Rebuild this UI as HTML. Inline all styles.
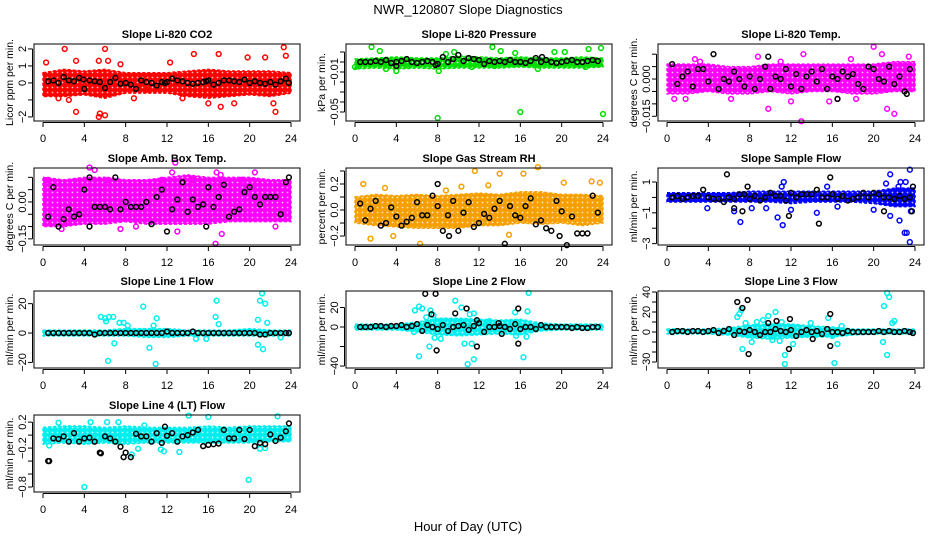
<!DOCTYPE html>
<html><head><meta charset="utf-8">
<style>
html,body{margin:0;padding:0;background:#fff;}
svg{display:block;font-family:"Liberation Sans",Arial,sans-serif;}
</style></head>
<body>
<svg id="chart" width="936" height="540" viewBox="0 0 936 540" xmlns="http://www.w3.org/2000/svg">
<defs id="defs"></defs>
<rect width="936" height="540" fill="#fff"/>
<text x="468" y="14" text-anchor="middle" font-size="13">NWR_120807  Slope Diagnostics</text>
<text x="468" y="531" text-anchor="middle" font-size="13">Hour of Day (UTC)</text>
</svg>
<script>
// ---- shared category arrays ----
const xTicks = [0,4,8,12,16,20,24];
const bandHours = [0,2,4,6,8,10,12,14,16,18,20,22,24];
const blackHours = [0.5,1,1.5,2,2.5,3,3.5,4,4.5,5,5.5,6,6.5,7,7.5,8,8.5,9,9.5,10,10.5,11,11.5,12,12.5,13,13.5,14,14.5,15,15.5,16,16.5,17,17.5,18,18.5,19,19.5,20,20.5,21,21.5,22,22.5,23,23.5];

// ---- Panel 1: Li-820 CO2 ----
const p1Lo = [-0.8,-0.8,-0.7,-0.9,-0.6,-0.6,-0.6,-0.8,-0.9,-0.8,-0.7,-0.8,-0.6];
const p1Hi = [0.6,0.8,0.7,0.8,0.6,0.6,0.6,0.7,0.8,0.7,0.7,0.7,0.6];
const p1OutH = [0.3,2.1,3.2,3.2,2.5,5.4,5.4,6,6,6.3,7.5,12.3,14.6,17,17.2,19.8,21.5,22.5,23.3,23.5,22.3,16,13.5,1.5,10,8.8,18.5,5.5];
const p1OutV = [1.2,2,-1.7,1.3,-1,1.3,-2,2,-1.9,1.3,1.1,1.2,1.7,1.7,-1.4,1.5,1.5,-1.7,2.1,1.6,-1.2,-1.2,-0.9,-0.9,-0.4,-0.9,-1.2,-1.8];
const p1Blk = [0.1,0.15,0,0.35,0.15,0.1,0.3,-0.35,0.15,0.1,0.05,-0.3,0.05,0.3,-0.05,0,-0.1,-0.35,0.15,0.05,0,-0.15,0.05,0.05,0.25,0.15,0.1,0,-0.05,0,0.05,0.15,-0.1,0,0.15,0.15,0.1,0.05,0.2,0,0.1,0,-0.05,0.05,-0.1,0.1,0.25];
const p1XH = [3.9,11.8,15.8,23.8];
const p1XV = [0.2,0,0.1,0];

// ---- Panel 2: Li-820 Pressure ----
const p2Lo = [-0.007,-0.006,-0.007,-0.006,-0.007,-0.006,-0.006,-0.006,-0.005,-0.006,-0.006,-0.006,-0.005];
const p2Hi = [0.003,0.004,0.005,0.004,0.004,0.006,0.005,0.004,0.005,0.004,0.004,0.005,0.004];
const p2OutH = [1.6,2.4,0,0.3,3,4,8,8.1,16,24,13.3,14.1,17.7,22.6,23.8,19.3,20.3,11.3,13.5,22.3,5.2,9.6,15.5,8.8];
const p2OutV = [0.015,0.011,-0.005,-0.003,-0.007,-0.009,-0.056,-0.009,-0.05,-0.052,0.015,0.011,-0.007,0.013,0.014,0.01,0.01,-0.005,-0.004,-0.005,-0.004,0.01,0.009,0.008];
const p2Blk = [0,0,0,0.001,0,0.002,-0.001,0,0.001,0.003,0,-0.001,0,0.001,0,-0.002,0.005,0,0.003,0.007,0.001,0.004,0.003,0.002,-0.002,0.001,0,0.001,0,0.002,0,0,-0.001,0.001,0.004,0,0.002,0,-0.001,0,0.001,0.002,0,0,0.001,0.002,0.001];
const p2XH = [4,7.8,18.1];
const p2XV = [-0.004,-0.003,0.005];

// ---- Panel 3: Li-820 Temp ----
const p3Lo = [-0.006,-0.006,-0.005,-0.006,-0.006,-0.005,-0.006,-0.005,-0.005,-0.006,-0.006,-0.005,-0.005];
const p3Hi = [0.006,0.006,0.006,0.005,0.005,0.006,0.006,0.006,0.006,0.006,0.006,0.007,0.007];
const p3OutH = [9.8,13,20,22,21.3,3.2,8.8,13.2,20.8,0.7,16.5,18.3,12,15.7,6.2,1.8,23.4,11,2.7,17.8];
const p3OutV = [-0.012,-0.017,0.013,-0.014,-0.012,0.007,0.009,0.01,0.01,-0.008,-0.008,-0.008,-0.009,-0.009,-0.008,-0.008,0.009,0.007,0.008,0.008];
const p3Blk = [0.006,-0.002,0.001,0.003,-0.003,0.004,0.004,-0.001,0.01,-0.004,0,-0.001,0.003,0,-0.003,0.001,-0.004,0,0.005,-0.004,0.001,0,0.004,-0.003,0.002,-0.004,0.001,0.003,-0.001,0.004,-0.004,0.001,0,0.003,0.001,0.002,-0.002,-0.004,0.005,0.004,0,-0.001,0.005,-0.002,0.001,-0.005,0.004];
const p3XH = [9.8,16.5,23.2];
const p3XV = [0.009,-0.008,-0.006];

// ---- Panel 4: Amb. Box Temp ----
const p4Lo = [-0.1,-0.1,-0.09,-0.09,-0.08,-0.09,-0.09,-0.09,-0.09,-0.08,-0.08,-0.08,-0.08];
const p4Hi = [0.1,0.09,0.1,0.1,0.09,0.09,0.1,0.11,0.1,0.1,0.1,0.09,0.09];
const p4OutH = [4.5,5,12.8,16.8,17.2,20.5,16.7,17.3,13,1.8,7.5,9,22.5,0.5,6.3,11.5,14.5,19.2,2.5,12.5];
const p4OutV = [0.14,0.13,0.16,0.12,0.11,0.12,-0.17,-0.13,-0.12,-0.11,-0.11,-0.1,-0.1,0.09,0.09,0.09,0.09,0.09,-0.08,0.12];
const p4Blk = [-0.06,0.06,-0.1,-0.07,-0.03,-0.06,-0.05,0.05,-0.1,-0.02,-0.02,-0.02,-0.03,0.1,-0.03,0,-0.02,-0.02,-0.02,0,-0.09,0.02,0.05,-0.12,-0.03,0.01,0.08,-0.04,0.01,-0.02,-0.01,0.06,-0.02,0.02,0.07,-0.06,-0.04,-0.03,0.04,0.06,0.02,-0.01,0.02,0.02,0.02,-0.05,0.08];
const p4XH = [4.5,15.8,23.8];
const p4XV = [0.1,-0.1,0.1];

// ---- Panel 5: Gas Stream RH ----
const p5Lo = [-0.1,-0.12,-0.13,-0.14,-0.14,-0.14,-0.12,-0.12,-0.1,-0.11,-0.1,-0.12,-0.1];
const p5Hi = [0.1,0.12,0.11,0.12,0.11,0.12,0.13,0.12,0.14,0.14,0.12,0.12,0.11];
const p5OutH = [0.8,2.9,6.3,11.6,14,16.3,17.7,22.9,23.7,1.5,3.7,14.9,12.9,20.2,10.3,8.8];
const p5OutV = [0.2,0.17,-0.26,0.3,0.28,0.28,0.33,0.22,0.21,-0.22,-0.2,-0.19,0.19,0.21,0.18,0.15];
const p5Blk = [0.05,-0.08,0.01,0.07,-0.12,-0.1,0.02,-0.05,-0.12,-0.09,-0.06,0.06,-0.04,-0.04,0.11,0.03,-0.16,-0.04,0.07,-0.16,-0.02,0.06,-0.13,-0.1,-0.03,-0.06,0.01,0.07,-0.26,0.03,-0.04,-0.06,0.03,0.09,-0.11,-0.08,-0.14,-0.16,0.07,-0.01,-0.27,-0.05,-0.18,-0.18,-0.18,0.11,-0.02];
const p5XH = [8,9.1,19.8];
const p5XV = [0.2,-0.2,-0.2];

// ---- Panel 6: Sample Flow ----
const p6Lo = [-0.3,-0.3,-0.3,-0.3,-0.3,-0.3,-0.4,-0.3,-0.3,-0.3,-0.4,-0.6,-0.6];
const p6Hi = [0.3,0.3,0.3,0.3,0.4,0.4,0.4,0.4,0.4,0.4,0.4,0.6,0.6];
const p6OutH = [11.3,11.1,10.7,11.2,14.5,7.1,3.9,6.5,21.6,21.2,22.4,22.6,23.1,23.5,23.5,23.2,23,22.5,21.6,23.6,16.5,20,15.5,8.2,9.6,12];
const p6OutV = [1,0.7,-1.3,-1.8,-1,-1.6,-0.7,-0.9,1.5,0.9,0.7,1,1,1.8,-2.9,-2.3,-2.3,-1.5,-1.2,-0.9,-0.6,-0.8,0.7,-0.7,-0.7,-0.8];
const p6Blk = [0,0.1,-0.1,0,0.1,0.1,0.5,0,-0.1,-0.1,-0.3,0,-0.1,0.2,0.2,-0.1,0.1,-0.2,0,0.3,0.1,0.1,-0.2,0.3,0,0.2,0.2,0.2,0.5,0,0,0.2,-0.1,0.1,-0.2,-0.1,0,0.3,0,0.3,0.2,0,0,-0.1,0.1,-0.1,0];
const p6XH = [5.8,15.8,14.7,11.8,7.3,21,23.7,23.8,7.8,6.5];
const p6XV = [1.5,1.3,-1.7,-1.2,-0.9,-0.9,-0.9,0.7,0.7,-0.7];

// ---- Panel 7: Line 1 Flow ----
const p7Lo = [-2,-2,-2,-2,-2,-3,-3,-2,-2,-2,-2,-2,-2];
const p7Hi = [2,2,2,2,3,3,3,2,2,2,3,2,2];
const p7OutH = [5.6,6,6.4,6.8,6.1,7.4,7.8,8.2,9.7,11,10.7,16.8,16.7,17,20.8,21,21.2,21.5,21.7,6.3,10.9,10.3,6.9,21.3,20.8,15.8,14.8,23];
const p7OutV = [11,10,11,11,8,7,7,5,18,10,5,22,11,6,9,22,27,20,7,-19,-21,-10,-7,-11,-8,-4,-4,-3];
const p7Blk = [0,0,0,0,0,0,0,0,0,-1,0,0,0,0,0,0,0,0,0,0,0,0,0,1,0,0,0,0,1,0,0,0,0,0,0,0,0,0,0,0,0,-1,-1,0,0,0,0];
const p7XH = [23.8];
const p7XV = [0];

// ---- Panel 8: Line 2 Flow ----
const p8Lo = [-3,-3,-3,-5,-8,-9,-8,-7,-8,-4,-3,-3,-3];
const p8Hi = [3,3,3,5,9,9,8,7,8,4,3,3,3];
const p8OutH = [6.2,6.5,5.8,6.9,7.3,7.6,9.7,10.3,11.1,11.5,15.5,16.7,16.8,7.7,7.2,6.2,8.3,10.6,10.9,11.5,11.3,16.3,15.6,16.6,9.3,13,5.7];
const p8OutV = [21,19,17,10,17,12,27,20,13,14,15,16,35,-11,-20,-30,-12,-17,-38,-33,-17,-31,-9,-10,-6,6,-5];
const p8Blk = [0,0,0,1,1,0,1,1,2,0,1,3,-4,2,0,-2,2,-4,0,1,2,-3,1,4,-5,0,0,1,0,-2,3,-2,0,0,-2,2,0,0,0,0,0,-1,0,-1,-1,0,0];
const p8XH = [6.8,7.8,7.4,7.9,10.8,9.7,11.8,15.8,15.8,11.8,13.9,14.2];
const p8XV = [34,34,13,-24,19,14,-20,19,-17,7,4,-7];

// ---- Panel 9: Line 3 Flow ----
const p9Lo = [-2,-2,-2,-3,-6,-7,-6,-5,-5,-3,-2,-2,-2];
const p9Hi = [3,3,3,4,7,8,8,6,5,3,3,3,3];
const p9OutH = [6.8,7,7.2,7.6,8.7,9.3,9.8,10.5,11.1,13.9,15.6,16.9,21,21.3,21.5,21.8,22,7.3,8.2,10.2,10.9,11.4,11.4,12.2,16.2,16.5,21.3,20.9,16];
const p9OutV = [15,18,22,9,10,12,16,20,10,9,14,6,26,39,35,9,11,-17,-10,-8,-9,-23,-32,-12,-31,-12,-23,-10,-4];
const p9Blk = [0,1,1,0,1,1,0,1,2,-1,1,3,-3,1,0,2,0,-3,0,0,3,1,0,2,-4,0,2,0,1,-2,3,0,0,-1,1,0,0,0,0,0,1,0,1,0,0,1,0];
const p9XH = [6.8,7.8,7.3,7.9,11.9,11.8,15.8,15.8,14.1,10.6,9.8,23.8];
const p9XV = [30,32,24,-22,13,-17,18,-14,-7,11,9,-1];

// ---- Panel 10: Line 4 (LT) Flow ----
const p10Lo = [-0.14,-0.12,-0.14,-0.12,-0.14,-0.12,-0.12,-0.12,-0.12,-0.12,-0.12,-0.1,-0.1];
const p10Hi = [0.12,0.14,0.14,0.12,0.14,0.12,0.12,0.12,0.14,0.12,0.14,0.14,0.14];
const p10OutH = [4,19.9,14.1,16,22.7,0.6,8.6,9.2,11.4,11.7,13.2,21,1.5,4.6,6.2,7.3,9.8,21.5];
const p10OutV = [-0.8,-0.69,0.3,0.28,0.29,-0.16,-0.3,-0.21,-0.22,-0.25,-0.26,-0.21,0.19,0.2,0.2,0.2,0.15,-0.2];
const p10Blk = [-0.4,-0.05,-0.06,-0.02,-0.1,0.03,-0.1,-0.05,-0.04,-0.1,-0.27,-0.02,-0.05,-0.1,-0.18,-0.27,-0.34,0.02,-0.02,-0.02,-0.1,0.03,-0.12,-0.01,0.03,-0.1,-0.02,0,0.04,0.08,-0.17,-0.15,-0.14,-0.13,0.08,-0.05,-0.05,0.08,-0.06,0.08,-0.17,-0.12,-0.14,0.01,-0.09,-0.04,0.06];
const p10XH = [0.6,7.8,5.6,11.8,23.8];
const p10XV = [-0.4,-0.34,-0.28,0.13,0.18];

// ---- layout (not data) ----
const colLeft = [34,346,658];
const rowTop = [44,168,291,415];
const boxW = 266, boxH = 77;

const svg = document.getElementById('chart');
const defs = document.getElementById('defs');
const NS = 'http://www.w3.org/2000/svg';
function mk(tag, attrs, parent){
  const e = document.createElementNS(NS, tag);
  for (const k in attrs) e.setAttribute(k, attrs[k]);
  (parent||svg).appendChild(e);
  return e;
}

function drawPanel(p){
  const L = colLeft[p.col], T = rowTop[p.row], B = T + boxH, R = L + boxW;
  const g = mk('g', {});
  
  
  const xs = h => L + 9 + h * (248/24);
  const ys = v => B - (v - p.ymin) / (p.ymax - p.ymin) * boxH;

  // texture pattern for dense cloud
  const pat = mk('pattern', {id: p.name + '-pat', width: 5, height: 5, patternUnits: 'userSpaceOnUse'}, defs);
  mk('rect', {width: 5, height: 5, fill: p.color}, pat);
  mk('circle', {cx: 2.5, cy: 2.5, r: 0.9, fill: '#fff', 'fill-opacity': 0.75}, pat);

  // band (dense cloud)
  let pts = [];
  for (let i=0;i<bandHours.length && i<p.lo.length;i++) pts.push(xs(bandHours[i])+','+ys(p.hi[i]));
  for (let i=Math.min(bandHours.length,p.lo.length)-1;i>=0;i--) pts.push(xs(bandHours[i])+','+ys(p.lo[i]));
  const band = mk('polygon', {points: pts.join(' '), fill: 'url(#' + p.name + '-pat)', stroke: p.color, 'stroke-width': 1.5, 'stroke-dasharray': '3 2', 'stroke-linejoin':'round'}, g);
  
  

  // colored scattered points
  for (let i=0;i<p.outH.length;i++){
    const c = mk('circle', {cx: xs(p.outH[i]), cy: ys(p.outV[i]), r: 2.4, fill:'none', stroke: p.color, 'stroke-width': 1.5}, g);
    
    
  }
  // black points
  for (let i=0;i<p.blk.length && i<blackHours.length;i++){
    const c = mk('circle', {cx: xs(blackHours[i]), cy: ys(p.blk[i]), r: 2.4, fill:'none', stroke:'#000', 'stroke-width': 1.5}, g);
    
    
  }
  for (let i=0;i<p.xh.length;i++){
    const c = mk('circle', {cx: xs(p.xh[i]), cy: ys(p.xv[i]), r: 2.4, fill:'none', stroke:'#000', 'stroke-width': 1.5}, g);
    
    
  }

  // box
  const box = mk('rect', {x: L, y: T, width: boxW, height: boxH, fill:'none', stroke:'#000', 'stroke-width':1}, g);
  
  

  // x axis
  const xa = mk('g', {}, g);
  
  
  mk('line', {x1: xs(0), x2: xs(24), y1: B+1.5, y2: B+1.5, stroke:'#000'}, xa);
  xTicks.forEach(t=>{
    mk('line', {x1: xs(t), x2: xs(t), y1: B+1.5, y2: B+6, stroke:'#000'}, xa);
    const tx = mk('text', {x: xs(t), y: B+21, 'text-anchor':'middle', 'font-size': 11}, xa);
    tx.textContent = t;
    
    
  });

  // y axis
  const ya = mk('g', {}, g);
  
  
  const tv = p.ticks;
  mk('line', {x1: L-1.5, x2: L-1.5, y1: ys(Math.min(...tv)), y2: ys(Math.max(...tv)), stroke:'#000'}, ya);
  tv.forEach((t,i)=>{
    const y = ys(t);
    mk('line', {x1: L-1.5, x2: L-6, y1: y, y2: y, stroke:'#000'}, ya);
    if (p.tickLabels[i]) {
      const tx = mk('text', {x: 0, y: 0, 'text-anchor':'middle', 'font-size': 11, transform: 'translate(' + (L-8) + ',' + y + ') rotate(-90)'}, ya);
      tx.textContent = p.tickLabels[i];
      
      
    }
  });
  const yt = mk('text', {x:0, y:0, 'text-anchor':'middle', 'font-size': 10.5, transform: 'translate(' + (L-21) + ',' + (T+boxH/2) + ') rotate(-90)'}, g);
  yt.textContent = p.ylab;
  
  

  const ti = mk('text', {x: L + boxW/2, y: T-6, 'text-anchor':'middle', 'font-size': 11, 'font-weight':'bold'}, g);
  ti.textContent = p.title;
  
  
}

drawPanel({name:'co2', col:0,row:0, title:'Slope Li-820 CO2', ylab:'Licor ppm per min.', ymin:-2.24, ymax:2.29,
  ticks:[2,1,0,-1,-2], tickLabels:['2','1','0','','\u22122'], color:'#ff0000',
  lo:p1Lo, hi:p1Hi, outH:p1OutH, outV:p1OutV, blk:p1Blk, xh:p1XH, xv:p1XV});
drawPanel({name:'pressure', col:1,row:0, title:'Slope Li-820 Pressure', ylab:'kPa per min.', ymin:-0.059, ymax:0.018,
  ticks:[0.01,0,-0.01,-0.02,-0.03,-0.04,-0.05], tickLabels:['','','\u22120.01','','','','\u22120.05'], color:'#00dd00',
  lo:p2Lo, hi:p2Hi, outH:p2OutH, outV:p2OutV, blk:p2Blk, xh:p2XH, xv:p2XV});
drawPanel({name:'li820-temp', col:2,row:0, title:'Slope Li-820 Temp.', ylab:'degrees C per min.', ymin:-0.0169, ymax:0.0141,
  ticks:[0.01,0.005,0,-0.005,-0.01,-0.015], tickLabels:['','','0.000','','','\u22120.015'], color:'#ff00ff',
  lo:p3Lo, hi:p3Hi, outH:p3OutH, outV:p3OutV, blk:p3Blk, xh:p3XH, xv:p3XV});
drawPanel({name:'amb-box-temp', col:0,row:1, title:'Slope Amb. Box Temp.', ylab:'degrees C per min.', ymin:-0.175, ymax:0.138,
  ticks:[0.1,0.05,0,-0.05,-0.1,-0.15], tickLabels:['','','0.00','','','\u22120.15'], color:'#ff00ff',
  lo:p4Lo, hi:p4Hi, outH:p4OutH, outV:p4OutV, blk:p4Blk, xh:p4XH, xv:p4XV});
drawPanel({name:'gas-stream-rh', col:1,row:1, title:'Slope Gas Stream RH', ylab:'percent per min.', ymin:-0.269, ymax:0.323,
  ticks:[0.3,0.2,0.1,0,-0.1,-0.2], tickLabels:['','0.2','','0.0','','\u22120.2'], color:'#f5a000',
  lo:p5Lo, hi:p5Hi, outH:p5OutH, outV:p5OutV, blk:p5Blk, xh:p5XH, xv:p5XV});
drawPanel({name:'sample-flow', col:2,row:1, title:'Slope Sample Flow', ylab:'ml/min per min.', ymin:-3.09, ymax:1.91,
  ticks:[1,0,-1,-2,-3], tickLabels:['1','','\u22121','','\u22123'], color:'#0000ff',
  lo:p6Lo, hi:p6Hi, outH:p6OutH, outV:p6OutV, blk:p6Blk, xh:p6XH, xv:p6XV});
drawPanel({name:'line1-flow', col:0,row:2, title:'Slope Line 1 Flow', ylab:'ml/min per min.', ymin:-23.8, ymax:28.6,
  ticks:[20,0,-20], tickLabels:['20','0','\u221220'], color:'#00eeee',
  lo:p7Lo, hi:p7Hi, outH:p7OutH, outV:p7OutV, blk:p7Blk, xh:p7XH, xv:p7XV});
drawPanel({name:'line2-flow', col:1,row:2, title:'Slope Line 2 Flow', ylab:'ml/min per min.', ymin:-42, ymax:36.9,
  ticks:[20,0,-20,-40], tickLabels:['20','0','','\u221240'], color:'#00eeee',
  lo:p8Lo, hi:p8Hi, outH:p8OutH, outV:p8OutV, blk:p8Blk, xh:p8XH, xv:p8XV});
drawPanel({name:'line3-flow', col:2,row:2, title:'Slope Line 3 Flow', ylab:'ml/min per min.', ymin:-36, ymax:41,
  ticks:[40,30,20,10,0,-10,-20,-30], tickLabels:['40','','20','','0','','','\u221230'], color:'#00eeee',
  lo:p9Lo, hi:p9Hi, outH:p9OutH, outV:p9OutV, blk:p9Blk, xh:p9XH, xv:p9XV});
drawPanel({name:'line4-flow', col:0,row:3, title:'Slope Line 4 (LT) Flow', ylab:'ml/min per min.', ymin:-0.877, ymax:0.31,
  ticks:[0.2,0,-0.2,-0.4,-0.6,-0.8], tickLabels:['0.2','','\u22120.2','','','\u22120.8'], color:'#00eeee',
  lo:p10Lo, hi:p10Hi, outH:p10OutH, outV:p10OutV, blk:p10Blk, xh:p10XH, xv:p10XV});
</script>
</body></html>
